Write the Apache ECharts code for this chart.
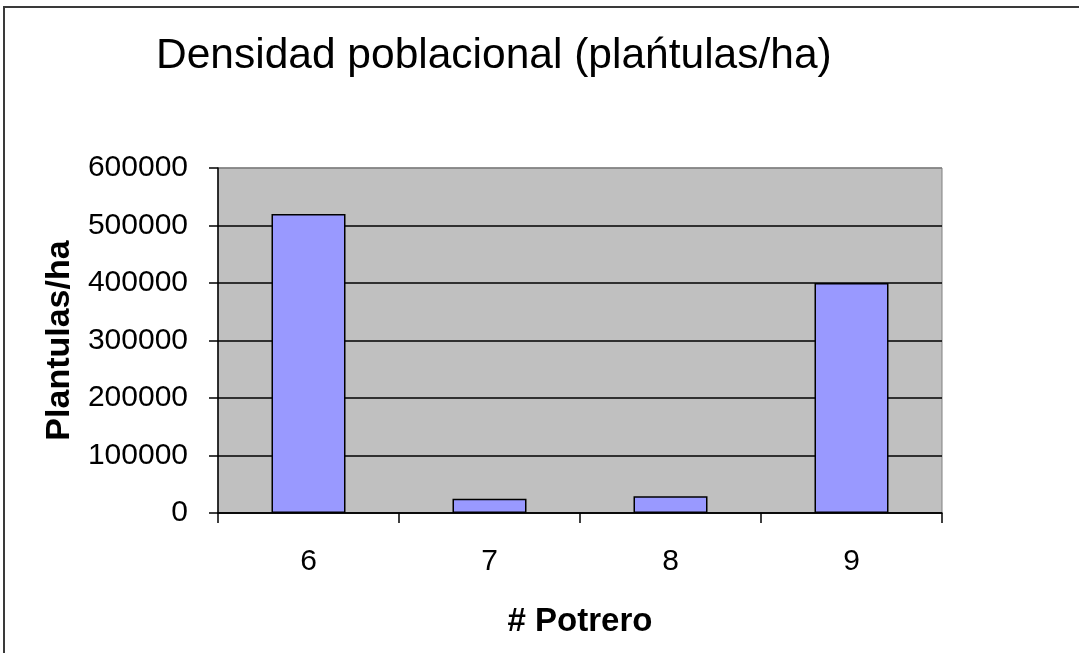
<!DOCTYPE html>
<html>
<head>
<meta charset="utf-8">
<script src="https://cdn.jsdelivr.net/npm/echarts@6/dist/echarts.min.js"></script>
<style>
html,body{margin:0;padding:0;background:#fff;}
#c{width:1079px;height:653px;}
</style>
</head>
<body>
<div id="c"></div>
<script>
const titleText = 'Densidad poblacional (plańtulas/ha)';
const categories = ['6', '7', '8', '9'];
const values = [520000, 25000, 29000, 400000];
const yTicks = { min: 0, max: 600000, interval: 100000 };
const xName = '# Potrero';
const yName = 'Plantulas/ha';

const chart = echarts.init(document.getElementById('c'), null, {renderer: 'canvas'});
const font = '"Liberation Sans", Arial, sans-serif';
chart.setOption({
  animation: false,
  backgroundColor: '#fff',
  title: {
    text: titleText,
    left: 151,
    top: 30,
    textStyle: { fontFamily: font, fontSize: 42.5, fontWeight: 'normal', color: '#000' }
  },
  graphic: [{
    type: 'rect',
    shape: { x: 4, y: 7, width: 1200, height: 1000 },
    style: { fill: 'none', stroke: '#3a3a3a', lineWidth: 2 },
    silent: true
  }],
  grid: {
    left: 218, top: 168, right: 137, bottom: 140,
    show: true, backgroundColor: '#C0C0C0', borderColor: '#808080', borderWidth: 1
  },
  xAxis: {
    type: 'category',
    data: categories,
    name: xName,
    nameLocation: 'middle',
    nameGap: 92,
    nameTextStyle: { fontFamily: font, fontSize: 33, fontWeight: 'bold', color: '#000' },
    axisLine: { lineStyle: { color: '#000', width: 1.5 } },
    axisTick: { show: true, alignWithLabel: false, length: 10, lineStyle: { color: '#000', width: 1.5 } },
    axisLabel: { fontFamily: font, fontSize: 30, color: '#000', margin: 34 },
    splitLine: { show: false }
  },
  yAxis: {
    type: 'value',
    min: yTicks.min, max: yTicks.max, interval: yTicks.interval,
    name: yName,
    nameLocation: 'middle',
    nameGap: 134,
    nameTextStyle: { fontFamily: font, fontSize: 34, fontWeight: 'bold', color: '#000' },
    axisLine: { show: true, lineStyle: { color: '#000', width: 1.5 } },
    axisTick: { show: true, length: 9, lineStyle: { color: '#000', width: 1.5 } },
    axisLabel: { fontFamily: font, fontSize: 30, color: '#000', margin: 30, formatter: v => String(v) },
    splitLine: { show: true, lineStyle: { color: ['#000','#000','#000','#000','#000','#000','#808080'], width: 1.5 } }
  },
  series: [{
    type: 'bar',
    data: values,
    barWidth: 74,
    itemStyle: { color: '#9999FF', borderColor: '#000', borderWidth: 1.5 }
  }]
});
</script>
</body>
</html>
